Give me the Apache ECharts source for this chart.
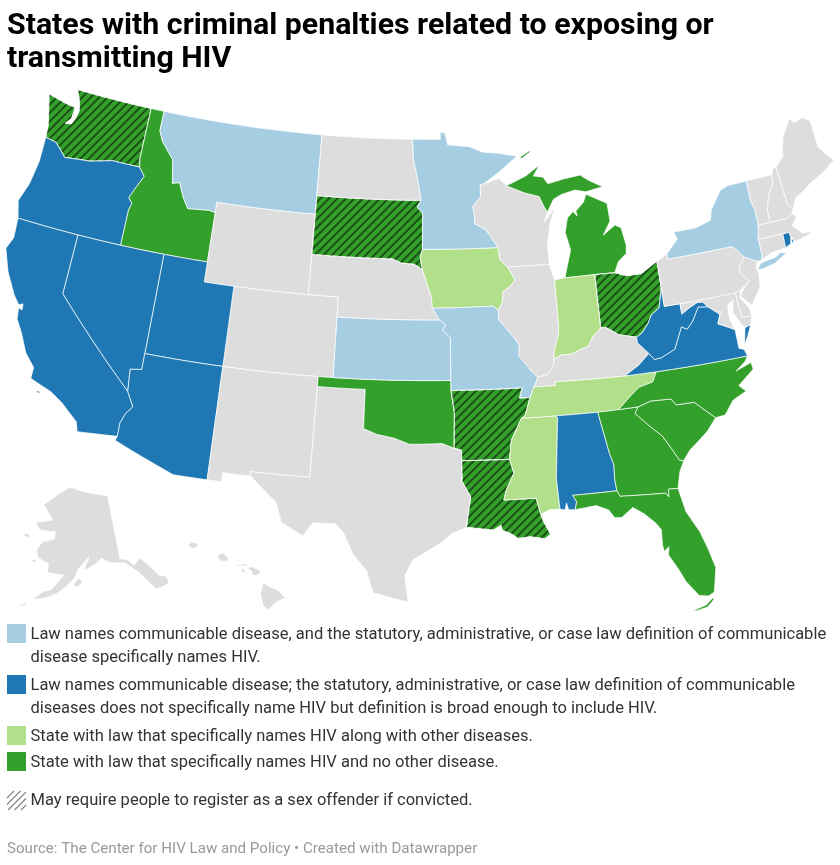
<!DOCTYPE html>
<html>
<head>
<meta charset="utf-8">
<title>States with criminal penalties</title>
<script src="https://cdn.jsdelivr.net/npm/echarts@6/dist/echarts.min.js"></script>
<style>
html, body { margin: 0; padding: 0; background: #fff; }
#chart { width: 840px; height: 865px; }
</style>
</head>
<body>
<div id="chart"></div>
<script>
// chart data
var titleText = 'States with criminal penalties related to exposing or\ntransmitting HIV';
var footerText = 'Source: The Center for HIV Law and Policy \u2022 Created with Datawrapper';
var categoryLabels = [
    'Law names communicable disease, and the statutory, administrative, or case law definition of communicable\ndisease specifically names HIV.',
    'Law names communicable disease; the statutory, administrative, or case law definition of communicable\ndiseases does not specifically name HIV but definition is broad enough to include HIV.',
    'State with law that specifically names HIV along with other diseases.',
    'State with law that specifically names HIV and no other disease.'
];
var hatchLabel = 'May require people to register as a sex offender if convicted.';
var categoryColors = ['#a6cee3', '#1f78b4', '#b2df8a', '#33a02c'];
var communicableNamedStates = ['Montana', 'Minnesota', 'New York', 'Kansas', 'Missouri'];
var communicableBroadStates = ['Oregon', 'California', 'Nevada', 'Utah', 'Arizona', 'West Virginia', 'Virginia', 'Alabama', 'Rhode Island'];
var hivAndOtherStates = ['Iowa', 'Indiana', 'Tennessee', 'Mississippi'];
var hivOnlyStates = ['Washington', 'Idaho', 'South Dakota', 'Michigan', 'Ohio', 'Oklahoma', 'Arkansas', 'Louisiana', 'North Carolina', 'South Carolina', 'Georgia', 'Florida'];
var sexOffenderStates = ['Washington', 'South Dakota', 'Ohio', 'Arkansas', 'Louisiana'];

// shared state borders, lon/lat
var borders = {
    mnWi: [[-92.01, 46.71], [-92.29, 46.66], [-92.29, 46.07], [-92.87, 45.6], [-92.75, 45.0], [-92.8, 44.75], [-92.0, 44.4], [-91.22, 43.5]],
    wiIa: [[-91.22, 43.5], [-91.15, 42.9], [-90.64, 42.51]],
    ilIa: [[-90.64, 42.51], [-90.18, 41.84], [-90.58, 41.52], [-91.05, 41.3], [-91.1, 40.81], [-91.42, 40.38]],
    ilMo: [[-91.42, 40.38], [-91.42, 39.93], [-90.73, 39.25], [-90.45, 38.96], [-90.18, 38.63], [-90.25, 38.1], [-89.52, 37.3], [-89.13, 36.98]],
    kyMo: [[-89.13, 36.98], [-89.42, 36.5]],
    tnMo: [[-89.42, 36.5], [-89.7, 36.0]],
    tnAr: [[-89.7, 36.0], [-90.07, 35.13], [-90.31, 35.0]],
    msAr: [[-90.31, 35.0], [-90.58, 34.6], [-91.0, 33.95], [-91.17, 33.0]],
    msLa: [[-91.17, 33.0], [-90.95, 32.3], [-91.42, 31.55], [-91.63, 31.0], [-89.73, 31.0], [-89.53, 30.18]],
    ilIn: [[-87.53, 39.35], [-87.6, 39.0], [-87.95, 38.2], [-88.03, 37.8]],
    ilKy: [[-88.03, 37.8], [-88.07, 37.5], [-88.5, 37.07], [-89.13, 36.98]],
    inKy: [[-88.03, 37.8], [-87.57, 37.97], [-86.82, 37.98], [-86.3, 38.15], [-85.75, 38.27], [-85.4, 38.72], [-84.82, 39.1]],
    ohKy: [[-84.82, 39.1], [-84.5, 39.1], [-83.7, 38.65], [-82.6, 38.42]],
    kyWv: [[-82.6, 38.42], [-82.6, 38.15], [-81.97, 37.54]],
    kyVa: [[-81.97, 37.54], [-82.7, 37.05], [-83.67, 36.6]],
    tnKy: [[-89.42, 36.5], [-88.07, 36.5], [-88.07, 36.68], [-83.67, 36.6]],
    wvOh: [[-82.6, 38.42], [-82.2, 38.6], [-81.75, 39.0], [-81.45, 39.4], [-80.87, 39.7], [-80.52, 40.64]],
    wvMd: [[-79.48, 39.72], [-79.48, 39.2], [-78.9, 39.45], [-78.35, 39.63], [-78.0, 39.6], [-77.72, 39.32]],
    vaWv: [[-77.72, 39.32], [-78.35, 39.4], [-78.87, 38.76], [-79.3, 38.42], [-79.65, 38.58], [-80.3, 37.55], [-81.22, 37.24], [-81.68, 37.2], [-81.97, 37.54]],
    mdVa: [[-77.72, 39.32], [-77.05, 38.84], [-77.3, 38.4], [-76.95, 38.25], [-76.3, 37.95]],
    tnNc: [[-81.68, 36.59], [-82.0, 36.12], [-82.9, 35.95], [-83.5, 35.57], [-84.32, 34.99]],
    ncSc: [[-83.11, 35.0], [-82.3, 35.2], [-81.04, 35.15], [-80.78, 34.82], [-79.67, 34.8], [-78.55, 33.86]],
    gaSc: [[-83.11, 35.0], [-83.35, 34.7], [-82.6, 34.0], [-81.9, 33.4], [-81.4, 32.6], [-81.12, 32.1], [-80.87, 32.03]],
    alGa: [[-85.61, 34.98], [-85.18, 32.87], [-85.0, 32.3], [-85.05, 31.55], [-85.0, 31.0]],
    alFl: [[-85.0, 31.0], [-87.6, 31.0], [-87.4, 30.67], [-87.52, 30.28]],
    flGa: [[-85.0, 31.0], [-84.86, 30.71], [-82.21, 30.57], [-82.05, 30.36], [-82.0, 30.75], [-81.45, 30.71]],
    alMs: [[-88.2, 35.0], [-88.1, 34.9], [-88.47, 31.9], [-88.4, 30.37]],
    red: [[-94.48, 33.64], [-95.2, 33.88], [-96.6, 33.85], [-97.2, 33.85], [-98.1, 34.13], [-99.2, 34.3], [-100.0, 34.56]],
    txLa: [[-94.04, 33.02], [-94.04, 31.99], [-93.55, 31.2], [-93.7, 30.5], [-93.84, 29.7]],
    ksMo: [[-95.31, 40.0], [-94.9, 39.75], [-95.1, 39.5], [-94.61, 39.11], [-94.62, 37.0]],
    neIa: [[-95.77, 40.58], [-95.85, 41.2], [-96.1, 41.7], [-96.45, 42.49]],
    neSd: [[-104.05, 43.0], [-98.5, 43.0], [-97.9, 42.8], [-97.0, 42.75], [-96.45, 42.49]],
    sdIa: [[-96.45, 42.49], [-96.6, 43.1], [-96.45, 43.5]],
    sdMn: [[-96.45, 43.5], [-96.45, 45.3], [-96.85, 45.6], [-96.56, 45.94]],
    idMt: [[-116.05, 49.0], [-116.05, 48.0], [-115.7, 47.5], [-114.7, 46.7], [-114.4, 45.55], [-113.9, 45.65], [-113.45, 44.95], [-113.0, 44.45], [-111.5, 44.55], [-111.05, 44.48]],
    waId: [[-116.92, 46.0], [-117.04, 46.4], [-117.04, 49.0]],
    orWa: [[-116.92, 46.0], [-118.98, 46.0], [-119.3, 45.93], [-120.5, 45.7], [-121.2, 45.65], [-122.3, 45.55], [-122.8, 45.9], [-123.2, 46.15], [-124.0, 46.25]],
    orId: [[-117.03, 42.0], [-117.03, 43.8], [-116.9, 44.15], [-117.2, 44.4], [-116.85, 45.0], [-116.46, 45.6], [-116.92, 46.0]],
    caAz: [[-114.63, 35.0], [-114.14, 34.3], [-114.5, 33.9], [-114.72, 33.4], [-114.72, 32.72]],
    wiMi: [[-90.4, 46.55], [-89.1, 46.13], [-88.1, 45.9], [-87.8, 45.35], [-87.6, 45.1]]
};

// builds a closed ring from border names ("-" = walked backwards) and loose points
function ring() {
    var pts = [];
    for (var i = 0; i < arguments.length; i++) {
        var part = arguments[i];
        if (typeof part === 'string') {
            part = part[0] === '-' ? borders[part.slice(1)].slice().reverse() : borders[part];
        }
        pts = pts.concat(part);
    }
    pts.push(pts[0]);
    // long straight borders have to follow the curve of the projection
    var out = [pts[0]];
    for (var j = 1; j < pts.length; j++) {
        var a = pts[j - 1], b = pts[j];
        var n = Math.ceil(Math.abs(b[0] - a[0]));
        for (var k = 1; k <= n; k++) {
            out.push([a[0] + (b[0] - a[0]) * k / n, a[1] + (b[1] - a[1]) * k / n]);
        }
        if (n === 0) out.push(b);
    }
    return [out];
}

var stateShapes = {
    'Washington': [ring('orWa', [[-124.1, 46.9], [-124.7, 48.38], [-123.2, 48.15], [-122.55, 48.1], [-122.6, 47.5], [-122.95, 47.2], [-122.5, 47.25], [-122.3, 47.6], [-122.2, 48.0], [-122.4, 48.5], [-122.75, 49.0]], '-waId')],
    'Oregon': [ring('orWa', [[-123.95, 45.0], [-124.15, 43.8], [-124.55, 42.84], [-124.21, 42.0], [-120.0, 42.0]], 'orId')],
    'Idaho': [ring('waId', 'idMt', [[-111.05, 42.0], [-114.04, 42.0]], 'orId')],
    'Montana': [ring([[-116.05, 49.0], [-104.05, 49.0], [-104.05, 45.94], [-104.05, 45.0], [-111.05, 45.0]], '-idMt')],
    'Wyoming': [ring([[-111.05, 45.0], [-104.05, 45.0], [-104.05, 43.0], [-104.05, 41.0], [-109.05, 41.0], [-111.05, 41.0], [-111.05, 42.0], [-111.05, 44.48]])],
    'Colorado': [ring([[-109.05, 41.0], [-104.05, 41.0], [-102.05, 41.0], [-102.05, 40.0], [-102.05, 37.0], [-103.0, 37.0], [-109.05, 37.0]])],
    'Utah': [ring([[-111.05, 42.0], [-111.05, 41.0], [-109.05, 41.0], [-109.05, 37.0], [-114.04, 37.0], [-114.04, 42.0]])],
    'Nevada': [ring([[-120.0, 42.0], [-117.03, 42.0], [-114.04, 42.0], [-114.04, 37.0], [-114.04, 36.2], [-114.75, 36.1], [-114.63, 35.0], [-120.0, 39.0]])],
    'California': [
        ring([[-124.21, 42.0], [-120.0, 42.0], [-120.0, 39.0]], 'caAz', [[-117.12, 32.53], [-117.3, 33.0], [-118.4, 33.75], [-119.2, 34.15], [-120.6, 34.55], [-120.6, 35.1], [-121.3, 35.7], [-121.9, 36.6], [-122.4, 37.2], [-122.5, 37.75], [-122.25, 37.7], [-122.3, 38.0], [-122.55, 37.9], [-123.0, 38.3], [-123.8, 39.3], [-124.4, 40.4], [-124.1, 41.0]]),
        ring([[-120.05, 34.03], [-119.85, 34.03], [-119.85, 33.95], [-120.05, 33.95]])
    ],
    'Arizona': [ring([[-114.04, 37.0], [-109.05, 37.0], [-109.05, 31.33], [-111.07, 31.33], [-114.8, 32.5]], '-caAz', [[-114.75, 36.1], [-114.04, 36.2]])],
    'New Mexico': [ring([[-109.05, 37.0], [-103.0, 37.0], [-103.0, 36.5], [-103.05, 32.0], [-106.62, 32.0], [-106.53, 31.78], [-108.2, 31.78], [-108.2, 31.33], [-109.05, 31.33]])],
    'Texas': [ring([[-103.0, 36.5], [-100.0, 36.5]], '-red', [[-94.04, 33.55]], 'txLa', [[-94.7, 29.4], [-95.3, 28.95], [-96.9, 28.1], [-97.35, 27.3], [-97.15, 25.96], [-99.1, 26.4], [-99.5, 27.5], [-100.3, 28.3], [-100.9, 29.35], [-101.4, 29.77], [-102.7, 29.75], [-103.2, 29.05], [-104.5, 29.65], [-104.9, 30.6], [-106.53, 31.78], [-106.62, 32.0], [-103.05, 32.0]])],
    'Oklahoma': [ring([[-103.0, 37.0], [-94.62, 37.0], [-94.62, 36.5], [-94.43, 35.4]], 'red', [[-100.0, 36.5], [-103.0, 36.5]])],
    'Kansas': [ring([[-102.05, 40.0]], 'ksMo', [[-102.05, 37.0]])],
    'Nebraska': [ring('neSd', '-neIa', [[-95.31, 40.0], [-102.05, 40.0], [-102.05, 41.0], [-104.05, 41.0]])],
    'South Dakota': [ring([[-104.05, 45.94]], '-sdMn', '-sdIa', '-neSd', [[-104.05, 45.0]])],
    'North Dakota': [ring([[-104.05, 49.0], [-97.23, 49.0], [-97.15, 48.0], [-96.8, 46.9], [-96.56, 45.94], [-104.05, 45.94]])],
    'Iowa': [ring('sdIa', 'wiIa', 'ilIa', [[-91.73, 40.61], [-95.77, 40.58]], 'neIa')],
    'Minnesota': [ring([[-97.23, 49.0], [-95.15, 49.0], [-95.15, 49.38], [-94.8, 49.3], [-94.6, 48.72], [-93.0, 48.6], [-92.0, 48.3], [-90.8, 48.2], [-89.5, 48.0], [-90.8, 47.3]], 'mnWi', 'sdMn', [[-96.8, 46.9], [-97.15, 48.0]])],
    'Wisconsin': [ring('-mnWi', [[-90.9, 46.95]], 'wiMi', [[-87.9, 44.6], [-87.05, 45.27], [-87.5, 44.5], [-87.8, 43.5], [-87.8, 42.49]], '-wiIa')],
    'Michigan': [
        ring([[-86.82, 41.76], [-84.8, 41.76], [-83.45, 41.73], [-83.1, 42.25], [-82.5, 42.6], [-82.42, 43.0], [-82.6, 43.9], [-83.0, 44.07], [-83.9, 43.65], [-83.3, 44.3], [-83.35, 45.2], [-84.75, 45.78], [-85.0, 45.4], [-85.6, 45.0], [-85.55, 44.75], [-85.8, 45.0], [-86.25, 44.7], [-86.5, 44.0], [-86.25, 43.1], [-86.6, 42.3]]),
        ring('wiMi', [[-87.1, 45.7], [-86.5, 45.9], [-85.5, 46.05], [-84.75, 45.9], [-83.5, 46.05], [-84.5, 46.48], [-85.0, 46.77], [-86.2, 46.67], [-87.4, 46.5], [-87.7, 46.85], [-88.4, 46.95], [-87.9, 47.47], [-88.9, 47.0]]),
        ring([[-89.2, 47.85], [-88.45, 48.18], [-88.55, 48.22], [-89.25, 47.95]])
    ],
    'Illinois': [ring([[-87.8, 42.49], [-87.53, 41.7]], 'ilIn', 'ilKy', '-ilMo', '-ilIa')],
    'Indiana': [ring([[-87.53, 41.7], [-86.82, 41.76], [-84.8, 41.76]], '-inKy', '-ilIn')],
    'Ohio': [ring([[-84.8, 41.76], [-83.45, 41.73], [-82.7, 41.5], [-81.7, 41.5], [-80.52, 41.98]], '-wvOh', '-ohKy')],
    'Kentucky': [ring('-ilKy', 'inKy', 'ohKy', 'kyWv', 'kyVa', '-tnKy', '-kyMo')],
    'Missouri': [ring([[-95.77, 40.58], [-91.73, 40.61]], 'ilMo', 'kyMo', 'tnMo', [[-90.37, 36.0], [-90.15, 36.5], [-94.62, 36.5]], '-ksMo')],
    'Arkansas': [ring([[-94.62, 36.5], [-90.15, 36.5], [-90.37, 36.0]], 'tnAr', 'msAr', [[-94.04, 33.02], [-94.04, 33.55], [-94.48, 33.64], [-94.43, 35.4]])],
    'Louisiana': [ring('msLa', [[-89.4, 29.8], [-89.05, 29.15], [-89.4, 28.95], [-90.2, 29.1], [-90.9, 29.05], [-91.3, 29.3], [-91.8, 29.5], [-91.85, 29.75], [-92.15, 29.6], [-92.3, 29.53]], '-txLa')],
    'Mississippi': [ring('alMs', [[-89.0, 30.38]], '-msLa', '-msAr')],
    'Tennessee': [ring('-tnAr', '-tnMo', 'tnKy', 'tnNc', [[-85.61, 34.98], [-88.2, 35.0]])],
    'Alabama': [ring([[-88.2, 35.0]], 'alGa', 'alFl', [[-87.9, 30.3], [-88.0, 30.65], [-88.1, 30.3]], '-alMs')],
    'Georgia': [ring([[-85.61, 34.98], [-84.32, 34.99]], 'gaSc', [[-81.2, 31.5]], '-flGa', '-alGa')],
    'Florida': [
        ring('flGa', [[-81.2, 29.5], [-80.6, 28.4], [-80.3, 27.5], [-80.05, 26.5], [-80.35, 25.3], [-80.7, 25.15], [-81.2, 25.25], [-81.8, 26.05], [-82.1, 26.7], [-82.55, 27.5], [-82.45, 27.9], [-82.75, 27.7], [-82.8, 28.0], [-82.75, 28.8], [-83.0, 29.15], [-83.6, 29.7], [-84.2, 30.08], [-84.9, 29.65], [-85.3, 29.68], [-85.6, 30.1], [-86.3, 30.38]], '-alFl'),
        ring([[-81.6, 24.55], [-80.9, 24.72], [-80.5, 25.02], [-80.42, 24.95], [-80.85, 24.6], [-81.5, 24.5]])
    ],
    'South Carolina': [ring('ncSc', [[-79.15, 33.3], [-79.6, 33.0], [-80.4, 32.5]], '-gaSc')],
    'North Carolina': [ring('tnNc', 'ncSc', [[-77.95, 33.9], [-77.3, 34.55], [-76.41, 34.86], [-76.78, 35.2], [-75.7, 35.85], [-75.75, 36.2], [-76.77, 35.93], [-76.1, 36.3], [-75.87, 36.55]])],
    'Virginia': [
        ring('vaWv', 'kyVa', [[-81.68, 36.59], [-75.87, 36.55], [-76.0, 36.9], [-76.3, 37.0], [-76.3, 37.5]], '-mdVa'),
        ring([[-75.65, 37.95], [-75.25, 38.03], [-75.6, 37.5], [-75.9, 37.12]])
    ],
    'West Virginia': [ring([[-80.52, 40.64], [-80.52, 39.72]], 'wvMd', 'vaWv', '-kyWv', 'wvOh')],
    'Maryland': [ring([[-79.48, 39.72], [-75.79, 39.72], [-75.7, 38.46], [-75.05, 38.45], [-75.25, 38.03], [-75.65, 37.95], [-75.85, 38.2], [-76.2, 38.8], [-76.05, 39.4], [-76.45, 39.2], [-76.5, 38.5], [-76.35, 38.05]], '-mdVa', '-wvMd')],
    'Delaware': [ring([[-75.79, 39.72], [-75.42, 39.8], [-75.55, 39.45], [-75.1, 38.8], [-75.05, 38.45], [-75.7, 38.46]])],
    'District of Columbia': [ring([[-77.12, 38.93], [-77.04, 39.0], [-76.91, 38.89], [-77.04, 38.79]])],
    'Pennsylvania': [ring([[-80.52, 41.98], [-79.76, 42.27], [-79.76, 42.0], [-75.35, 42.0], [-75.05, 41.75], [-74.7, 41.36], [-75.13, 40.98], [-75.2, 40.65], [-74.72, 40.15], [-75.42, 39.8], [-75.79, 39.72], [-80.52, 39.72], [-80.52, 40.64]])],
    'New Jersey': [ring([[-74.7, 41.36], [-73.9, 41.0], [-74.1, 40.7], [-74.0, 40.45], [-74.1, 39.75], [-74.9, 38.95], [-75.5, 39.5], [-75.1, 39.9], [-74.72, 40.15], [-75.2, 40.65], [-75.13, 40.98]])],
    'New York': [
        ring([[-79.76, 42.27], [-78.9, 42.9], [-79.05, 43.27], [-77.5, 43.27], [-76.4, 43.5], [-76.2, 44.0], [-75.3, 44.85], [-74.7, 45.0], [-73.35, 45.01], [-73.4, 44.0], [-73.25, 43.55], [-73.27, 42.75], [-73.5, 42.05], [-73.49, 41.2], [-73.65, 41.0], [-73.9, 41.0], [-74.7, 41.36], [-75.05, 41.75], [-75.35, 42.0], [-79.76, 42.0]]),
        ring([[-74.03, 40.6], [-73.7, 40.88], [-72.6, 41.0], [-72.3, 41.15], [-71.87, 41.07], [-72.8, 40.7], [-73.6, 40.58]])
    ],
    'Connecticut': [ring([[-73.5, 42.05], [-71.8, 42.02], [-71.85, 41.32], [-72.9, 41.25], [-73.65, 41.0], [-73.49, 41.2]])],
    'Rhode Island': [
        ring([[-71.8, 42.02], [-71.38, 42.02], [-71.33, 41.8], [-71.45, 41.45], [-71.85, 41.32]]),
        ring([[-71.33, 41.62], [-71.2, 41.65], [-71.25, 41.47], [-71.35, 41.47]])
    ],
    'Massachusetts': [ring([[-73.5, 42.05], [-73.27, 42.75], [-72.46, 42.73], [-71.3, 42.7], [-70.85, 42.87], [-70.6, 42.65], [-71.05, 42.3], [-70.65, 41.95], [-70.5, 41.78], [-70.0, 41.78], [-70.2, 42.07], [-69.95, 41.7], [-70.65, 41.55], [-71.12, 41.5], [-71.2, 41.67], [-71.33, 41.8], [-71.38, 42.02], [-71.8, 42.02]])],
    'Vermont': [ring([[-73.35, 45.01], [-71.5, 45.01], [-71.6, 44.5], [-72.05, 44.1], [-72.4, 43.4], [-72.46, 42.73], [-73.27, 42.75], [-73.25, 43.55], [-73.4, 44.0]])],
    'New Hampshire': [ring([[-71.5, 45.01], [-71.3, 45.3], [-71.08, 45.3], [-70.98, 43.4], [-70.7, 43.07], [-70.85, 42.87], [-71.3, 42.7], [-72.46, 42.73], [-72.4, 43.4], [-72.05, 44.1], [-71.6, 44.5]])],
    'Maine': [ring([[-71.08, 45.3], [-70.4, 45.75], [-70.25, 46.2], [-70.0, 46.7], [-69.23, 47.46], [-68.9, 47.2], [-68.3, 47.35], [-67.8, 47.07], [-67.8, 45.7], [-67.45, 45.3], [-67.0, 44.85], [-68.0, 44.4], [-69.0, 44.1], [-69.8, 43.75], [-70.3, 43.6], [-70.7, 43.07], [-70.98, 43.4]])],
    'Alaska': [
        ring([[-141.0, 69.65], [-141.0, 60.3], [-139.0, 60.0], [-137.5, 58.9], [-135.5, 59.8], [-133.5, 58.4], [-131.8, 56.6], [-130.0, 56.0], [-130.0, 55.0], [-131.5, 54.8], [-133.5, 54.8], [-135.0, 56.2], [-136.7, 57.8], [-139.8, 59.6], [-144.0, 60.0], [-146.5, 60.8], [-148.5, 60.0], [-151.8, 59.2], [-150.0, 61.2], [-153.3, 59.5], [-154.3, 58.2], [-156.5, 57.0], [-158.5, 56.0], [-161.0, 55.2], [-163.2, 54.8], [-164.9, 54.6], [-162.5, 55.9], [-160.5, 56.3], [-157.5, 58.5], [-159.0, 58.6], [-162.0, 58.7], [-162.0, 60.0], [-165.3, 60.6], [-166.1, 61.7], [-164.8, 63.0], [-161.0, 63.6], [-161.0, 64.7], [-166.4, 64.6], [-168.1, 65.6], [-162.5, 66.3], [-163.9, 67.1], [-166.5, 68.35], [-163.0, 69.6], [-161.0, 70.3], [-156.6, 71.35], [-152.0, 70.8], [-148.0, 70.4]]),
        ring([[-171.7, 63.4], [-170.0, 63.7], [-168.7, 63.3], [-170.0, 63.2]]),
        ring([[-167.0, 60.2], [-165.7, 60.3], [-165.7, 59.9], [-167.0, 59.9]]),
        ring([[-154.5, 57.5], [-153.2, 58.1], [-152.2, 57.6], [-153.5, 56.9], [-154.4, 56.9]]),
        ring([[-167.8, 53.3], [-166.2, 54.0], [-166.2, 53.6], [-167.5, 53.2]]),
        ring([[-169.0, 52.9], [-167.9, 53.5], [-167.9, 53.3], [-168.9, 52.8]]),
        ring([[-175.0, 52.3], [-174.0, 52.4], [-174.0, 52.05], [-175.0, 52.05]])
    ],
    'Hawaii': [
        ring([[-159.78, 22.05], [-159.6, 22.23], [-159.3, 22.15], [-159.35, 21.95], [-159.6, 21.9]]),
        ring([[-158.28, 21.55], [-158.0, 21.7], [-157.7, 21.45], [-157.75, 21.27], [-158.1, 21.3]]),
        ring([[-157.3, 21.1], [-156.75, 21.17], [-156.75, 21.05], [-157.25, 21.06]]),
        ring([[-157.05, 20.9], [-156.85, 20.9], [-156.85, 20.75], [-157.0, 20.75]]),
        ring([[-156.7, 20.95], [-156.55, 21.03], [-156.25, 20.93], [-156.0, 20.75], [-156.2, 20.6], [-156.45, 20.6], [-156.5, 20.8]]),
        ring([[-155.9, 20.25], [-155.6, 20.05], [-155.1, 19.85], [-154.8, 19.5], [-155.3, 19.25], [-155.65, 18.92], [-155.9, 19.1], [-156.05, 19.7]])
    ]
};

var features = [];
Object.keys(stateShapes).forEach(function (name) {
    features.push({
        type: 'Feature',
        properties: { name: name },
        geometry: { type: 'MultiPolygon', coordinates: stateShapes[name] }
    });
});
echarts.registerMap('USA', { type: 'FeatureCollection', features: features });

// Albers conic, y pointing down
function albers(lon, lat, lon0, lat0, p1, p2) {
    var rad = Math.PI / 180;
    var n = (Math.sin(p1 * rad) + Math.sin(p2 * rad)) / 2;
    var c = Math.pow(Math.cos(p1 * rad), 2) + 2 * n * Math.sin(p1 * rad);
    var rho = Math.sqrt(c - 2 * n * Math.sin(lat * rad)) / n;
    var rho0 = Math.sqrt(c - 2 * n * Math.sin(lat0 * rad)) / n;
    var theta = n * (lon - lon0) * rad;
    return [rho * Math.sin(theta), rho * Math.cos(theta) - rho0];
}
// lower 48 plus Alaska and Hawaii insets
var usaProjection = {
    project: function (p) {
        var q;
        if (p[1] > 50 && p[0] < -129) {
            q = albers(p[0], p[1], -154, 58.5, 55, 65);
            return [-0.3075 + 0.345 * q[0], 0.1787 + 0.345 * q[1]];
        }
        if (p[1] < 23.5 && p[0] < -150) {
            q = albers(p[0], p[1], -157, 19.9, 8, 18);
            return [-0.163 + 1.03 * q[0], 0.191 + 1.03 * q[1]];
        }
        return albers(p[0], p[1], -96, 37.5, 29.5, 45.5);
    },
    unproject: function (q) {
        var rad = Math.PI / 180, n = 0.60285, c = 1.3512, rho0 = 1.3032;
        var y = q[1] + rho0;
        var rho = Math.sqrt(q[0] * q[0] + y * y);
        return [-96 + Math.atan2(q[0], y) / n / rad, Math.asin((c - rho * rho * n * n) / (2 * n)) / rad];
    }
};

// fit: page position of the projection origin and its scale
var mapScale = 1148, mapOriginX = 429, mapOriginY = 370.5;
var minX = Infinity, maxX = -Infinity, minY = Infinity, maxY = -Infinity;
Object.keys(stateShapes).forEach(function (name) {
    stateShapes[name].forEach(function (poly) {
        poly[0].forEach(function (pt) {
            var q = usaProjection.project(pt);
            minX = Math.min(minX, q[0]); maxX = Math.max(maxX, q[0]);
            minY = Math.min(minY, q[1]); maxY = Math.max(maxY, q[1]);
        });
    });
});

var hatchDecal = {
    symbol: 'rect',
    symbolSize: 1,
    dashArrayX: [1, 0],
    dashArrayY: [2, 4],
    rotation: -Math.PI / 4,
    color: 'rgba(0, 0, 0, 0.5)'
};

var stateGroups = [communicableNamedStates, communicableBroadStates, hivAndOtherStates, hivOnlyStates];
var mapData = [];
stateGroups.forEach(function (group, idx) {
    group.forEach(function (name) {
        var item = { name: name, value: idx, itemStyle: { areaColor: categoryColors[idx] } };
        if (sexOffenderStates.indexOf(name) >= 0) {
            item.itemStyle.decal = hatchDecal;
            item.decal = hatchDecal;
        }
        mapData.push(item);
    });
});

// legend rows: swatch top y, text top y
var legendSwatchY = [624, 675, 726, 752];
var legendTextY = [623, 674, 725, 751];
var legendGraphic = [];
categoryLabels.forEach(function (label, i) {
    legendGraphic.push({
        type: 'rect',
        shape: { x: 7, y: legendSwatchY[i], width: 19, height: 19 },
        style: { fill: categoryColors[i] },
        silent: true
    });
    legendGraphic.push({
        type: 'text',
        x: 30.5,
        y: legendTextY[i],
        style: { text: label, fill: '#333333', font: '400 16.5px Roboto', lineHeight: 23 },
        silent: true
    });
});
// hatched swatch
[[7, 798, 14, 791], [7, 804.5, 20.5, 791], [8, 810, 26, 792], [14.5, 810, 26, 798.5], [21, 810, 26, 805]].forEach(function (s) {
    legendGraphic.push({
        type: 'line',
        shape: { x1: s[0], y1: s[1], x2: s[2], y2: s[3] },
        style: { stroke: '#888888', lineWidth: 1.3 },
        silent: true
    });
});
legendGraphic.push({
    type: 'text',
    x: 30.5,
    y: 789,
    style: { text: hatchLabel, fill: '#333333', font: '400 16.5px Roboto', lineHeight: 23 },
    silent: true
});

var chart = echarts.init(document.getElementById('chart'));
chart.setOption({
    backgroundColor: '#ffffff',
    animation: false,
    title: [{
        text: titleText,
        left: 7,
        top: 10,
        padding: 0,
        textStyle: { fontFamily: 'Roboto', fontWeight: 700, fontSize: 30.3, lineHeight: 33, color: '#000000' }
    }, {
        text: footerText,
        left: 7,
        top: 842,
        padding: 0,
        textStyle: { fontFamily: 'Roboto', fontWeight: 400, fontSize: 15.13, color: '#999999' }
    }],
    graphic: legendGraphic,
    series: [{
        type: 'map',
        map: 'USA',
        projection: usaProjection,
        roam: false,
        silent: true,
        selectedMode: false,
        showLegendSymbol: false,
        layoutCenter: [mapOriginX + mapScale * (minX + maxX) / 2, mapOriginY + mapScale * (minY + maxY) / 2],
        layoutSize: mapScale * Math.max(maxX - minX, maxY - minY),
        label: { show: false },
        emphasis: { disabled: true },
        itemStyle: { areaColor: '#dddddd', borderColor: '#ffffff', borderWidth: 0.7 },
        data: mapData
    }]
});
window.addEventListener('resize', function () {
    chart.resize();
});
</script>
</body>
</html>
